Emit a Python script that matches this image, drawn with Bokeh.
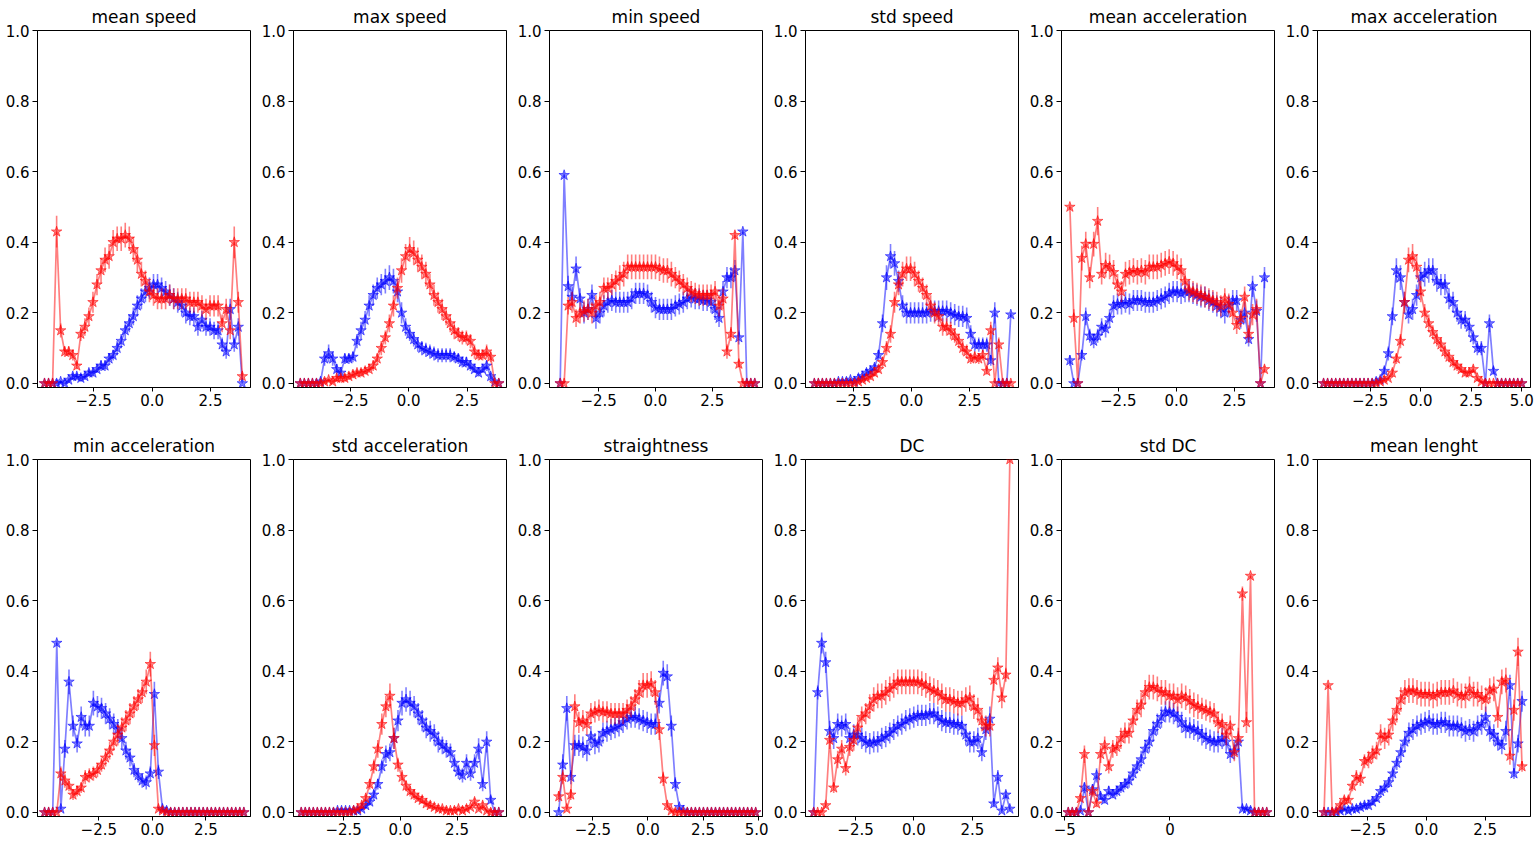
import numpy as np
from bokeh.plotting import figure
from bokeh.layouts import gridplot
from bokeh.models import Range1d, FixedTicker, CustomJSTickFormatter, PrintfTickFormatter, ColumnDataSource
from bokeh.embed import file_html
from bokeh.resources import INLINE

# ---------------- data (y in units of 0.01) ----------------
titles = ["mean speed", "max speed", "min speed", "std speed", "mean acceleration", "max acceleration",
          "min acceleration", "std acceleration", "straightness", "DC", "std DC", "mean lenght"]

# first and last bin centre of each panel (bins evenly spaced between them)
bin_first = [-4.60, -4.64, -4.19, -4.17, -4.58, -4.80, -5.03, -4.37, -4.05, -4.29, -4.84, -4.36]
bin_last = [3.86, 3.86, 4.37, 4.27, 3.79, 5.00, 4.27, 4.34, 4.89, 4.10, 4.60, 4.07]

x_tick_values = [[-2.5, 0, 2.5], [-5, -2.5, 0, 2.5], [-2.5, 0, 2.5], [-2.5, 0, 2.5], [-2.5, 0, 2.5],
                 [-2.5, 0, 2.5, 5], [-2.5, 0, 2.5], [-2.5, 0, 2.5], [-2.5, 0, 2.5, 5], [-2.5, 0, 2.5],
                 [-5, 0, 5], [-2.5, 0, 2.5]]
x_tick_decimals = [1, 1, 1, 1, 1, 1, 1, 1, 1, 1, 0, 1]
y_tick_values = [0.0, 0.2, 0.4, 0.6, 0.8, 1.0]

mean_speed_red = [0,0,0,43,15,9,9,8,5,14, 16,19,23,28,32,35,36,40,41,41, 42,41,38,35,31,29,26,25,24,24, 24,25,24,24,24,24,23,23,23,22, 21,22,22,22,17,21,15,40,23,2]
mean_speed_red_err = [0,0,0,4.5,2,1.5,1.5,1.5,1,2, 2.5,2.5,3,3,3.5,3.5,3.5,3.5,3.5,3.5, 3.5,3.5,3.5,3.5,3.5,3,3,3,3,3, 3,3,3,3,3,3,3,3,3,3, 3,3,3,3,2.5,3,2.5,4.5,3,1]
mean_speed_blue = [0,0,0,0,0.5,0,1,2,2,1.5, 2,3,3,4,5,5,7,8,10,12, 15,17,19,22,24,26,27,28,28,27, 26,25,24,23,22,20,19,19,16,18, 16,16,15,15,11,9,21,11,16,0]
mean_speed_blue_err = [0,0,0,0,0.5,0,0.5,1,1,1, 1,1,1,1,1.5,1.5,1.5,1.5,2,2, 2.5,2.5,2.5,3,3,3,3,3,3,3, 3,3,3,3,3,3,2.5,2.5,2.5,2.5, 2.5,2.5,2.5,2.5,2,2,3,2,2.5,0]

max_speed_red = [0,0,0,0,0,0,0.5,1,0.5,1.5, 1.5,1.5,2,2.5,3,3,3.5,4,5,7, 10,13,17,22,27,32,36,38,37,35, 33,31,28,25,23,21,19,17,15,14, 13,13,12,9,8,8,9,7.5,0,0]
max_speed_red_err = [0,0,0,0,0,0,0.5,0.5,0.5,1, 1,1,1,1,1,1,1,1,1.5,1.5, 2,2,2.5,3,3,3.5,3.5,3.5,3.5,3.5, 3.5,3.5,3,3,3,3,2.5,2.5,2.5,2, 2,2,2,2,1.5,1.5,2,1.5,0,0]
max_speed_blue = [0,0,0,0,0,0.5,7,8.5,7,4, 3,7,7,7.5,12,15,18,22,25,27, 28,29,30,29,26,20,16,14,12.5,11, 10,9.5,9,8.5,8,8,8,8,7.5,7, 6,6,5,4,3,4,5,2,0.5,0]
max_speed_blue_err = [0,0,0,0,0,0.5,2,2.5,2,1.5, 1,1.5,1.5,1.5,2,2.5,2.5,3,3,3, 3,3.5,3.5,3.5,3,3,2.5,2,2,2, 2,2,2,2,2,2,2,2,1.5,1.5, 1.5,1.5,1.5,1,1,1,1.5,1,0.5,0]

min_speed_red = [0,0,22,23,18.5,20,20.5,21,20,22, 23,27,27,28,29,30,31,33,33,33, 33,33,33,33,33,32.5,32,32,31,30, 29,28,27,26,25.5,25,25,25,25,26, 22,24,9,14,42,5.5,0,0,0,0]
min_speed_red_err = [0,0,2.5,3,2.5,3,3,3,3,3, 3,3,3,3,3,3.5,3.5,3.5,3.5,3.5, 3.5,3.5,3.5,3.5,3.5,3.5,3.5,3.5,3.5,3, 3,3,3,3,3,3,3,3,3,3, 3,3,2,2,1,1,0,0,0,0]
min_speed_blue = [0,59,27.5,24.5,32.5,24,20,21,25,18.5, 20,22,23,23.5,23,23,23,23,24,25.5, 25.5,25.5,25,23,21.5,21,21,21,21,22, 22.5,23,24,24.5,24,24,23.5,23.5,23,21, 18.5,26,30,30,32,13,43,0,0,0]
min_speed_blue_err = [0,0.5,3,3,3.5,3,3,3,3,3, 3,3,3,3,3,3,3,3,3,3, 3,3,3,3,3,3,3,3,3,3, 3,3,3,3,3,3,3,3,3,3, 2.5,3,3,3,3,2,0.5,0,0,0]

std_speed_red = [0,0,0,0,0,0,0,0,0,0, 0,0.5,1,1.5,2,3,4,6,10,14, 23,28,31,32.5,32.5,31,29,27,25,22, 20,19,16,16,15,13.5,12,10,9,7, 7.5,7,8,3.5,15,0,11,0,0,0]
std_speed_red_err = [0,0,0,0,0,0,0,0,0,0, 0,0.5,0.5,0.5,1,1,1,1.5,2,2.5, 3,3,3.5,3.5,3.5,3.5,3,3,3,3, 3,2.5,2.5,2.5,2.5,2,2,2,2,1.5, 1.5,1.5,1.5,1,2.5,0,2,0,0,0]
std_speed_blue = [0,0,0,0,0,0,0.5,0.5,0.5,1, 0.5,1.5,2,3,3.5,4.5,8,17,30,36, 34,29,22,20,20,20,20,20,20,20.5, 20.5,20.5,20.5,20.5,20,19.5,19,19,18.5,14, 11,11,11,11,6.5,20,0,0,0,19.5]
std_speed_blue_err = [0,0,0,0,0,0,0.5,0.5,0.5,0.5, 0.5,0.5,1,1,1,1,1.5,2.5,3.5,3.5, 3.5,3,3,3,3,3,3,3,3,3, 3,3,3,3,3,3,3,3,3,2.5, 2,2,2,2,1.5,3,0,0,0,0.5]

mean_acc_red = [50,18.5,0,35.5,39.5,30,39.5,46,31,33.5, 33,31.5,28,26,31,31.5,32,31.5,32,31.5, 33,33,33,33.5,34,34.5,34,33,32,29, 26.5,26,25.5,25,24.5,24,23.5,23,22,24, 22.5,20,16.5,18.5,24.5,14,19.5,21,0,4]
mean_acc_red_err = [0.5,2.5,0,3.5,3.5,3,3.5,4,3,3.5, 3.5,3.5,3,3,3.5,3.5,3.5,3.5,3.5,3.5, 3.5,3.5,3.5,3.5,3.5,3.5,3.5,3.5,3.5,3, 3,3,3,3,3,3,3,3,3,3, 3,3,2.5,2.5,3,2.5,3,3,0,1]
mean_acc_blue = [6.5,0,0,8,19,13.5,12,13.5,16,15.5, 18.5,22,22.5,22.5,23,22.5,23.5,23.5,23.5,23, 23,23,23.5,24,24.5,25.5,26,26,25.5,26, 26,25.5,25,24.5,24.5,23.5,23,22,21.5,20, 22,23.5,23.5,18,20,12.5,27.5,20.5,0,30]
mean_acc_blue_err = [1.5,0,0,1.5,2.5,2,2,2,2.5,2.5, 2.5,3,3,3,3,3,3,3,3,3, 3,3,3,3,3,3,3,3,3,3, 3,3,3,3,3,3,3,3,3,3, 3,3,3,2.5,3,2,3,3,0,3]

max_acc_red = [0,0,0,0,0,0,0,0,0,0, 0,0,0,0,0.5,1,1.5,3,7,12, 23,35,36,33,26,20,17,14.5,12.5,11, 9,7.5,6,5,4,3,3,4,1.5,0.5, 0,0,0,0,0,0,0,0,0,0]
max_acc_red_err = [0,0,0,0,0,0,0,0,0,0, 0,0,0,0,0.5,0.5,0.5,1,1.5,2, 3,3.5,3.5,3.5,3,2.5,2.5,2,2,2, 2,1.5,1.5,1.5,1,1,1,1,0.5,0.5, 0,0,0,0,0,0,0,0,0,0]
max_acc_blue = [0,0,0,0,0,0,0,0,0,0, 0,0,0,0.5,1,3.5,8.5,19,32,30, 23,19.5,21,25,30,31,32,32,29,28, 28,24,23,20,18,18,16,13,10,10, 0,17,3.5,0,0,0,0,0,0,0]
max_acc_blue_err = [0,0,0,0,0,0,0,0,0,0, 0,0,0,0.5,0.5,1,2,2.5,3.5,3.5, 3,2.5,3,3,3,3.5,3.5,3.5,3,3, 3,3,3,2.5,2.5,2.5,2.5,2,2,2, 0,2.5,1,0,0,0,0,0,0,0]

min_acc_red = [0,0,0,0,11,9,7.5,5,6,7, 10,10.5,11,12,13.5,15.5,17.5,20,22,24, 26,28,30,32,34,37,42,19,1,0.5, 0,0,0,0,0,0,0,0,0,0, 0,0,0,0,0,0,0,0,0,0]
min_acc_red_err = [0,0,0,0,2,2,1.5,1.5,1.5,1.5, 2,2,2,2,2,2.5,2.5,2.5,3,3, 3,3,3,3,3,3.5,3.5,3,0.5,0.5, 0,0,0,0,0,0,0,0,0,0, 0,0,0,0,0,0,0,0,0,0]
min_acc_blue = [0,0,0,48,1,18,37,24.5,19.5,27, 24.5,24.5,31,30,29.5,28,26.5,25,23.5,21, 17.5,15.5,12,10.5,9,8.5,11,33.5,11.5,1, 0.5,0,0,0,0,0,0,0,0,0, 0,0,0,0,0,0,0,0,0,0]
min_acc_blue_err = [0,0,0,0.5,0.5,2.5,3.5,3,2.5,3, 3,3,3.5,3,3,3,3,3,3,3, 2.5,2.5,2,2,2,2,2,3.5,2,0.5, 0.5,0,0,0,0,0,0,0,0,0, 0,0,0,0,0,0,0,0,0,0]

std_acc_red = [0,0,0,0,0,0,0,0,0,0, 0,0,0,0.5,1,2,4,8,13,18, 25,30,33,21,13.5,10,7.5,6,5,4, 3.5,2.5,2,1.5,1,1,0.5,0.5,0.5,1, 0.5,1,1.5,3,1,2,0.5,0,0,0]
std_acc_red_err = [0,0,0,0,0,0,0,0,0,0, 0,0,0,0.5,0.5,1,1,1.5,2,2.5, 3,3,3.5,3,2,2,1.5,1.5,1.5,1, 1,1,1,0.5,0.5,0.5,0.5,0.5,0.5,0.5, 0.5,0.5,0.5,1,0.5,1,0.5,0,0,0]
std_acc_blue = [0,0,0,0,0,0,0,0,0,0.5, 0.5,0.5,0.5,0.5,0.5,1,2,3,5,8, 13,16.5,17,21,26,31,32,31,30,28, 26,24,23,22,20,19,18,17,14,11.5, 10.5,14,11,14,18,8,20,3.5,0,0]
std_acc_blue_err = [0,0,0,0,0,0,0,0,0,0.5, 0.5,0.5,0.5,0.5,0.5,0.5,1,1,1.5,1.5, 2,2.5,2.5,3,3,3.5,3.5,3.5,3,3, 3,3,3,3,3,2.5,2.5,2.5,2.5,2, 2,2.5,2,2.5,3,2,3,1,0,0]

straight_red = [4.5,10,1,5,30,25.5,26,25,28,28.5, 29,28.5,28.5,28,28,28,28,29,30,32, 34,36,36,36.5,34,23.5,9.5,2,0.5,0, 0,0,0,0,0,0,0,0,0,0, 0,0,0,0,0,0,0,0,0,0]
straight_red_err = [1.5,2,0.5,1.5,3.5,3,3,3,3,3, 3,3,3,3,3,3,3,3,3,3, 3.5,3.5,3.5,3.5,3.5,3,2,0.5,0.5,0, 0,0,0,0,0,0,0,0,0,0, 0,0,0,0,0,0,0,0,0,0]
straight_blue = [0,13.5,29.5,10,19,19,18.5,17.5,21.5,19.5, 20,22.5,23,23.5,24,24.5,25.5,26.5,27,27, 26.5,26,25.5,25,25,31,39.5,38.5,24.5,8, 1.5,0.5,0,0,0,0,0,0,0,0, 0,0,0,0,0,0,0,0,0,0]
straight_blue_err = [0,3,3.5,2,3,3,3,3,3,3, 3,3,3,3,3,3,3,3,3,3, 3,3,3,3,3,3,3.5,3.5,3,2, 0.5,0.5,0,0,0,0,0,0,0,0, 0,0,0,0,0,0,0,0,0,0]

dc_red = [0,0,0,2,20.5,7,15,18,12.5,18.5, 20.5,24,27,28,30,32,33,33,34,35, 36,37,37,37,37,37,37,36.5,36,35, 34.5,34,33,32,32,31.5,31,31,32,32.5, 30,29,26,24.5,24.5,37.5,41,32.5,39,100]
dc_red_err = [0,0,0,0.5,2.5,1.5,2.5,2.5,2,2.5, 3,3,3,3,3.5,3.5,3.5,3.5,3.5,3.5, 3.5,3.5,3.5,3.5,3.5,3.5,3.5,3.5,3.5,3.5, 3.5,3.5,3.5,3.5,3.5,3.5,3.5,3.5,3.5,3.5, 3.5,3.5,3,3,3,3,3,3,2,0]
dc_blue = [0,34,48,42.5,23,21,25,24.5,25,21, 22,22,21,20,19.5,20,20,21,21.5,22.5, 23.5,24.5,25,26,26.5,27,27.5,27.5,27.5,28, 28,27,26,25.5,25.5,25,25,24.5,22,20, 20,21,17,23.5,26.5,2.5,10,0.5,5,1]
dc_blue_err = [0,2,3,3,3,3,3,3,3,3, 3,3,3,3,3,3,3,3,3,3, 3,3,3,3,3,3,3,3,3,3, 3,3,3,3,3,3,3,3,3,3, 3,3,2.5,3,3.5,1,2,0.5,1,0.5]

std_dc_red = [0,0,0,4,16.5,0,6,2.5,16.5,19, 13,18,18.5,21,22.5,22.5,26,29,30.5,34, 35.5,35.5,35,34,34,33,33,32,33,32.5, 31.5,30.5,30,29.5,29,28.5,28,25.5,25,22, 24.5,17,21,62,25.5,67,0,0,0,0]
std_dc_red_err = [0,0,0,1,2.5,0,1.5,1,2.5,2.5, 2,2.5,2.5,3,3,3,3,3,3.5,3.5, 3.5,3.5,3.5,3.5,3.5,3.5,3.5,3.5,3.5,3.5, 3.5,3.5,3.5,3,3,3,3,3,3,3, 3,2.5,3,2,3,0.5,0,0,0,0]
std_dc_blue = [0,0,0,0.5,7,0,6.5,10.5,4.5,3.5, 6,5,6,7,8,9,11,13,15,18, 20,23,25,27,28.5,28.5,28,27,25.5,24, 24,23.5,23,22,21,20.5,20,20,21,20, 16.5,17.5,20,1,1,0.5,0,0,0,0]
std_dc_blue_err = [0,0,0,0.5,1.5,0,1.5,2,1,1, 1.5,1,1.5,1.5,1.5,2,2,2,2.5,2.5, 3,3,3,3,3,3,3,3,3,3, 3,3,3,3,3,3,3,3,3,3, 2.5,2.5,3,0.5,0.5,0.5,0,0,0,0]

mean_len_red = [0,36,0,0.5,2,3.5,3.5,7.5,10,9.5, 14.5,15,16.5,17.5,22,21,22,26,29,32, 34,34.5,34.5,34,33.5,33.5,33.5,33,33.5,34, 34,34,34.5,33.5,33,33,35,33.5,33.5,32.5, 32,34.5,35,27,37,37.5,16,29,45.5,13]
mean_len_red_err = [0,0.5,0,0.5,1,1,1,1.5,2,2, 2,2.5,2.5,2.5,3,3,3,3,3.5,3.5, 3.5,3.5,3.5,3.5,3.5,3.5,3.5,3.5,3.5,3.5, 3.5,3.5,3.5,3.5,3.5,3.5,3.5,3.5,3.5,3.5, 3.5,3.5,3.5,3,3.5,3.5,2.5,3,4,1.5]
mean_len_blue = [0,0,0,0,0.5,1,0.5,1,1,1.5, 2,2,3,4,6,7,8.5,11,14,17, 20,22.5,23.5,24.5,25,25.5,26,25,25,25.5, 25.5,24.5,24.5,24.5,24,23,23.5,23,24.5,25, 27,23,22,20,19,23,36,11,19.5,31.5]
mean_len_blue_err = [0,0,0,0,0.5,0.5,0.5,0.5,0.5,1, 1,1,1,1,1.5,1.5,1.5,2,2,2.5, 3,3,3,3,3,3,3,3,3,3, 3,3,3,3,3,3,3,3,3,3, 3,3,3,2.5,2.5,3,3,1.5,2.5,3]

panels = [
    (mean_speed_red, mean_speed_red_err, mean_speed_blue, mean_speed_blue_err),
    (max_speed_red, max_speed_red_err, max_speed_blue, max_speed_blue_err),
    (min_speed_red, min_speed_red_err, min_speed_blue, min_speed_blue_err),
    (std_speed_red, std_speed_red_err, std_speed_blue, std_speed_blue_err),
    (mean_acc_red, mean_acc_red_err, mean_acc_blue, mean_acc_blue_err),
    (max_acc_red, max_acc_red_err, max_acc_blue, max_acc_blue_err),
    (min_acc_red, min_acc_red_err, min_acc_blue, min_acc_blue_err),
    (std_acc_red, std_acc_red_err, std_acc_blue, std_acc_blue_err),
    (straight_red, straight_red_err, straight_blue, straight_blue_err),
    (dc_red, dc_red_err, dc_blue, dc_blue_err),
    (std_dc_red, std_dc_red_err, std_dc_blue, std_dc_blue_err),
    (mean_len_red, mean_len_red_err, mean_len_blue, mean_len_blue_err),
]

# ---------------- layout / style ----------------
x_limits = [(-4.90, 4.21), (-4.93, 4.19), (-4.66, 4.71), (-4.55, 4.60), (-4.94, 4.22), (-5.10, 5.43),
            (-5.36, 4.58), (-4.71, 4.68), (-4.47, 5.20), (-4.64, 4.47), (-5.16, 4.97), (-4.64, 4.43)]
FONT = "DejaVu Sans"
FRAME_W = 213
FRAME_H = 357
COL_RIGHT = [6, 6, 6, 6, 6, 4]
ROW_BOTTOM = [42, 24]


def add_series(p, xs, ys, es, color):
    n = min(len(xs), len(ys), len(es))
    y = np.asarray(ys[:n], dtype=float) / 100.0
    e = np.asarray(es[:n], dtype=float) / 100.0
    src = ColumnDataSource(dict(x=xs[:n], y=y, lo=y - e, hi=y + e))
    p.segment(x0="x", y0="lo", x1="x", y1="hi", source=src, line_color=color, line_alpha=0.5, line_width=1.6)
    p.line("x", "y", source=src, line_color=color, line_alpha=0.5, line_width=1.7)
    p.scatter("x", "y", source=src, marker="star", size=11, fill_color=color, fill_alpha=0.5,
              line_color=color, line_alpha=0.55, line_width=1)


figs = []
for i, title in enumerate(titles):
    r, c = divmod(i, 6)
    p = figure(frame_width=FRAME_W, frame_height=FRAME_H,
               x_range=Range1d(*x_limits[i]), y_range=Range1d(-0.0115, 1.0),
               output_backend="svg", toolbar_location=None,
               min_border_left=37, min_border_right=COL_RIGHT[c], min_border_top=28,
               min_border_bottom=ROW_BOTTOM[r])
    p.title.text = title
    p.title.align = "center"
    p.title.text_font = FONT
    p.title.text_font_size = "17px"
    p.title.text_font_style = "normal"
    p.title.text_color = "#000000"
    p.title.standoff = 8
    p.xgrid.visible = False
    p.ygrid.visible = False
    p.outline_line_color = "black"
    p.outline_line_alpha = 1.0
    p.outline_line_width = 1
    p.background_fill_color = "white"
    p.border_fill_color = "white"
    for ax in (p.xaxis[0], p.yaxis[0]):
        ax.axis_line_color = "black"
        ax.major_tick_line_color = "black"
        ax.major_tick_in = 0
        ax.major_tick_out = 5
        ax.minor_tick_line_color = None
        ax.major_label_text_font = FONT
        ax.major_label_text_font_size = "15px"
        ax.major_label_text_color = "#000000"
    p.xaxis[0].major_tick_out = 4
    p.xaxis[0].major_label_standoff = 2
    p.yaxis[0].major_label_standoff = 3
    p.yaxis.ticker = FixedTicker(ticks=y_tick_values)
    p.yaxis.formatter = PrintfTickFormatter(format="%.1f")
    p.xaxis.ticker = FixedTicker(ticks=x_tick_values[i])
    p.xaxis.formatter = CustomJSTickFormatter(
        args=dict(nd=x_tick_decimals[i]),
        code="return (tick < 0 ? '\\u2212' : '') + Math.abs(tick).toFixed(nd);")

    red, red_err, blue, blue_err = panels[i]
    xs = list(np.linspace(bin_first[i], bin_last[i], len(red)))
    add_series(p, xs, blue, blue_err, "blue")
    add_series(p, xs, red, red_err, "red")
    figs.append(p)

grid = gridplot([figs[:6], figs[6:]], toolbar_location=None)

open("out.html", "w", encoding="utf-8").write(file_html(grid, INLINE))
